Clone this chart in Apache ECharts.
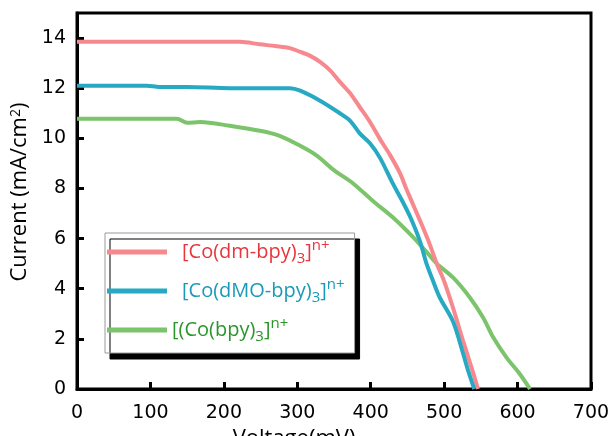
<!DOCTYPE html>
<html>
<head>
<meta charset="utf-8">
<title>J-V curves</title>
<script src="https://cdn.jsdelivr.net/npm/echarts@6/dist/echarts.min.js"></script>
<style>
  html, body { margin: 0; padding: 0; background: #fff; }
  #chart { width: 615px; height: 436px; }
</style>
</head>
<body>
<div id="chart"></div>
<script>
// data: [voltage (mV), current (mA/cm2)]
var seriesNames = ["[Co(dm-bpy)3]n+", "[Co(dMO-bpy)3]n+", "[(Co(bpy)3]n+"];

var dmBpy = [
  [0, 13.85], [50, 13.85], [100, 13.85], [150, 13.85], [200, 13.85], [222, 13.85],
  [249, 13.75], [270, 13.68], [290, 13.6], [304, 13.45], [317, 13.3], [331, 13.05],
  [345, 12.7], [358, 12.25], [372, 11.8], [385, 11.25], [399, 10.65], [413, 9.95],
  [426, 9.35], [440, 8.6], [449, 7.95], [460, 7.2], [471, 6.45], [480, 5.8],
  [490, 5.0], [500, 4.3], [512, 3.25], [526, 1.9], [540, 0.6], [546, 0]
];

var dmoBpy = [
  [0, 12.1], [95, 12.1], [112, 12.05], [150, 12.05], [208, 12.0], [290, 12.0],
  [304, 11.9], [331, 11.5], [358, 11.0], [372, 10.7], [385, 10.2], [399, 9.8],
  [413, 9.2], [430, 8.2], [443, 7.5], [454, 6.85], [467, 5.9], [476, 5.0],
  [485, 4.3], [494, 3.65], [512, 2.7], [526, 1.4], [533, 0.7], [541, 0]
];

var bpy = [
  [0, 10.78], [136, 10.78], [150, 10.62], [168, 10.65], [208, 10.5], [249, 10.3],
  [276, 10.1], [304, 9.7], [327, 9.3], [349, 8.75], [376, 8.2], [403, 7.5],
  [430, 6.85], [458, 6.05], [475, 5.5], [490, 5.0], [512, 4.45], [535, 3.65],
  [553, 2.85], [567, 2.05], [585, 1.25], [603, 0.6], [617, 0]
];

var xTicks = { min: 0, max: 700, step: 100 };
var yTicks = { min: 0, max: 15, step: 2 };

(function() {
  //1. init
  var myChart = echarts.init(document.getElementById("chart"));

  // legend labels with sub/superscripts
  var legendLabels = {};
  legendLabels[seriesNames[0]] = "{sp|}{r|[Co(dm-bpy)}{rs|3}{r|]}{rp|n+}";
  legendLabels[seriesNames[1]] = "{sp|}{b|[Co(dMO-bpy)}{bs|3}{b|]}{bp|n+}";
  legendLabels[seriesNames[2]] = "{g|[(Co(bpy)}{gs|3}{g|]}{gp|n+}";

  function main(c) {
    return { color: c, fontSize: 20, fontFamily: "Open Sans", lineHeight: 28 };
  }
  function sub(c) {
    return { color: c, fontSize: 15, fontFamily: "Open Sans", lineHeight: 13, verticalAlign: "bottom" };
  }
  function sup(c) {
    return { color: c, fontSize: 15, fontFamily: "Open Sans", lineHeight: 13, verticalAlign: "top" };
  }

  var tickFont = { color: "#000", fontSize: 19, fontFamily: "DejaVu Sans" };

  //2. options
  var option = {
    animation: false,
    grid: {
      left: 77,
      right: 24,
      top: 13,
      bottom: 47,
      outerBoundsMode: "none",
      containLabel: false,
      show: true,
      borderColor: "#000",
      borderWidth: 3
    },
    legend: {
      orient: "vertical",
      left: 105,
      top: 233,
      padding: [5, 10, 9, 2],
      itemGap: 11,
      itemWidth: 60,
      itemHeight: 5,
      icon: "rect",
      backgroundColor: "#fff",
      borderColor: "#9a9a9a",
      borderWidth: 1,
      shadowColor: "#000",
      shadowBlur: 0,
      shadowOffsetX: 5,
      shadowOffsetY: 6,
      data: seriesNames,
      formatter: function(name) {
        return legendLabels[name];
      },
      textStyle: {
        rich: {
          sp: { width: 10 },
          r: main("#e8363d"), rs: sub("#e8363d"), rp: sup("#e8363d"),
          b: main("#1a9ab8"), bs: sub("#1a9ab8"), bp: sup("#1a9ab8"),
          g: main("#2a962a"), gs: sub("#2a962a"), gp: sup("#2a962a")
        }
      }
    },
    xAxis: {
      type: "value",
      min: xTicks.min,
      max: xTicks.max,
      interval: xTicks.step,
      name: "Voltage(mV)",
      nameLocation: "middle",
      nameGap: 29,
      nameTextStyle: {
        color: "#000",
        fontSize: 22,
        fontFamily: "Open Sans",
        padding: [0, 80, 0, 0]
      },
      axisLine: { lineStyle: { color: "#000", width: 3 } },
      axisTick: { inside: true, length: 7, lineStyle: { color: "#000", width: 3 } },
      axisLabel: Object.assign({ margin: 15 }, tickFont),
      splitLine: { show: false }
    },
    yAxis: {
      type: "value",
      min: yTicks.min,
      max: yTicks.max,
      interval: yTicks.step,
      name: "Current (mA/cm{sup|2})",
      nameLocation: "middle",
      nameGap: 32,
      nameTextStyle: {
        color: "#000",
        fontSize: 22,
        fontFamily: "Open Sans",
        padding: [0, 0, 0, 18],
        rich: {
          sup: { fontSize: 14, fontFamily: "Open Sans", color: "#000", lineHeight: 12, verticalAlign: "top" }
        }
      },
      axisLine: { lineStyle: { color: "#000", width: 3 } },
      axisTick: { inside: true, length: 7, lineStyle: { color: "#000", width: 3 } },
      axisLabel: Object.assign({ margin: 11, showMaxLabel: false }, tickFont),
      splitLine: { show: false }
    },
    series: [
      {
        name: seriesNames[0],
        type: "line",
        data: dmBpy,
        showSymbol: false,
        smooth: 0.3,
        color: "#f7898e",
        lineStyle: { width: 4 },
        z: 3
      },
      {
        name: seriesNames[1],
        type: "line",
        data: dmoBpy,
        showSymbol: false,
        smooth: 0.3,
        color: "#27a9c4",
        lineStyle: { width: 4 },
        z: 4
      },
      {
        name: seriesNames[2],
        type: "line",
        data: bpy,
        showSymbol: false,
        smooth: 0.3,
        color: "#7cc46b",
        lineStyle: { width: 4 },
        z: 2
      }
    ]
  };

  //3. apply
  myChart.setOption(option);
})();
</script>
</body>
</html>
